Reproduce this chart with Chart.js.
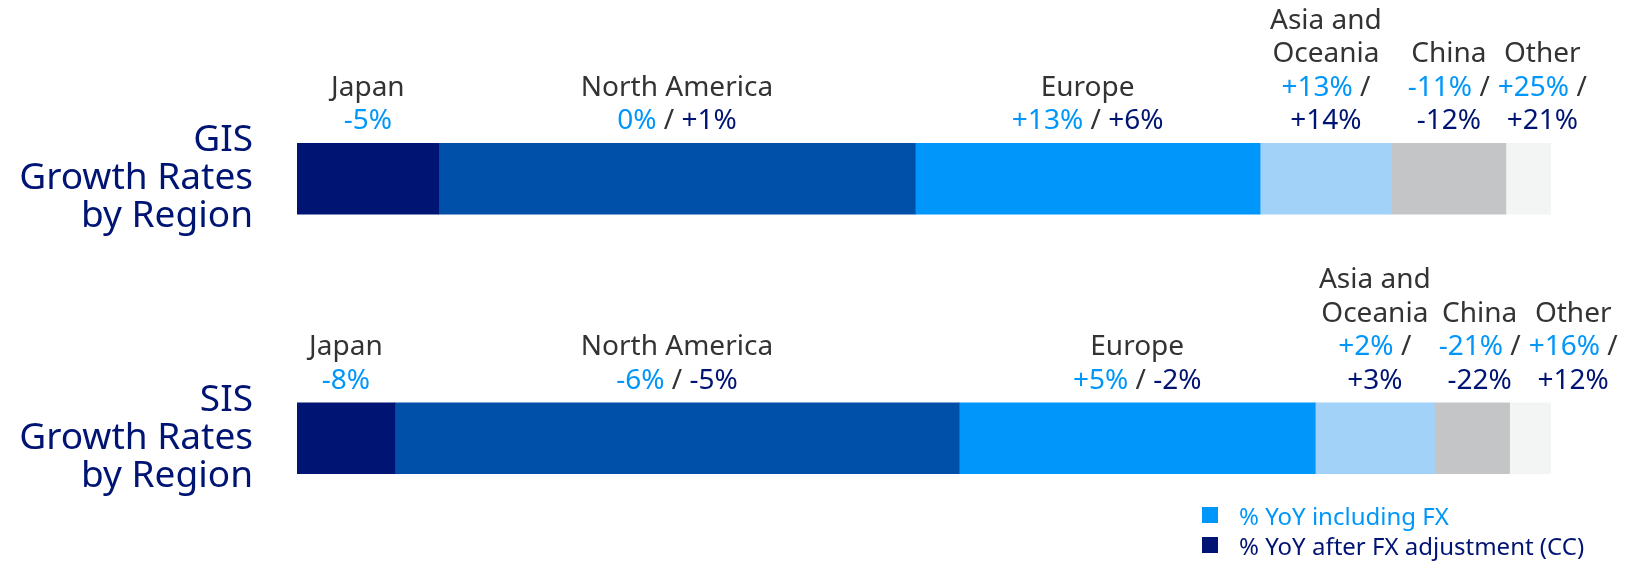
<!DOCTYPE html>
<html>
<head>
<meta charset="utf-8">
<title>Growth Rates by Region</title>
<script src="https://cdn.jsdelivr.net/npm/chart.js@4.4.1/dist/chart.umd.min.js"></script>
<style>
    body { margin: 0; background: #fff; font-family: 'Noto Sans', sans-serif; }
    #wrap { position: relative; width: 1627px; height: 569px; }
    .legend { position: absolute; left: 1202px; top: 500px; font-size: 24px; }
    .legend div { display: flex; align-items: center; height: 30px; }
    .legend .box { width: 16px; height: 16px; margin-right: 21px; }
</style>
</head>
<body>
<div id="wrap">
    <canvas id="chart" width="1627" height="569"></canvas>
    <div class="legend">
        <div style="color:#0096fa"><span class="box" style="background:#0096fa"></span>% YoY including FX</div>
        <div style="color:#001473"><span class="box" style="background:#001473"></span>% YoY after FX adjustment (CC)</div>
    </div>
</div>
<script>
// segments (rows) and their axis titles
const segments = ['GIS', 'SIS'];
const segmentTitles = [
    ['GIS', 'Growth Rates', 'by Region'],
    ['SIS', 'Growth Rates', 'by Region']
];

// regions (stacked pieces), label lines as shown above each piece
const regions = [['Japan'], ['North America'], ['Europe'], ['Asia and', 'Oceania'], ['China'], ['Other']];
const regionColors = ['#001473', '#0050aa', '#0096fa', '#a2d2f8', '#c4c5c7', '#f3f4f4'];

// share of revenue (%) - sets the width of each piece
const gisShare = [11.3, 38.0, 27.5, 10.5, 9.1, 3.6];
const sisShare = [7.8, 45.0, 28.4, 9.5, 6.0, 3.3];

// growth rates: % YoY including FX / % YoY after FX adjustment (null = not shown)
const gisFx = [-5, 0, 13, 13, -11, 25];
const gisCc = [null, 1, 6, 14, -12, 21];
const sisFx = [-8, -6, 5, 2, -21, 16];
const sisCc = [null, -5, -2, 3, -22, 12];

const fxRows = [gisFx, sisFx];
const ccRows = [gisCc, sisCc];

const LIGHT = '#0096fa';
const NAVY = '#001473';
const GREY = '#333333';

const fmt = v => (v > 0 ? '+' : '') + v + '%';

const regionLabels = {
    id: 'regionLabels',
    afterDatasetsDraw(chart) {
        const ctx = chart.ctx;
        const lineGap = 33.5;
        ctx.save();
        ctx.font = '28px "Noto Sans"';
        ctx.textBaseline = 'middle';
        ctx.textAlign = 'left';
        segments.forEach((seg, j) => {
            let prevRight = -Infinity;
            regions.forEach((reg, i) => {
                const bar = chart.getDatasetMeta(i).data[j];
                const left = Math.min(bar.base, bar.x);
                const right = Math.max(bar.base, bar.x);
                const fx = fmt(fxRows[j][i]);
                const cc = ccRows[j][i];

                const lines = reg.map(t => [[t, GREY]]);
                if (cc === null) {
                    lines.push([[fx, LIGHT]]);
                } else if (ctx.measureText(fx + ' / ' + fmt(cc)).width > right - left - 20) {
                    lines.push([[fx, LIGHT], [' /', GREY]]);
                    lines.push([[fmt(cc), NAVY]]);
                } else {
                    lines.push([[fx, LIGHT], [' / ', GREY], [fmt(cc), NAVY]]);
                }

                const widths = lines.map(runs => runs.reduce((s, r) => s + ctx.measureText(r[0]).width, 0));
                const blockW = Math.max(...widths);
                let cx = (left + right) / 2;
                // push right if it would run into the previous label
                if (cx - blockW / 2 < prevRight + 8) cx = prevRight + 8 + blockW / 2;
                prevRight = cx + blockW / 2;

                const bottomY = bar.y - bar.height / 2 - 22;
                lines.forEach((runs, k) => {
                    const y = bottomY - (lines.length - 1 - k) * lineGap;
                    let x = cx - widths[k] / 2;
                    runs.forEach(([t, c]) => {
                        ctx.fillStyle = c;
                        ctx.fillText(t, x, y);
                        x += ctx.measureText(t).width;
                    });
                });
            });
        });
        ctx.restore();
    }
};

const ctx = document.getElementById('chart').getContext('2d');

new Chart(ctx, {
    type: 'bar',
    data: {
        labels: segmentTitles,
        datasets: regions.map((reg, i) => ({
            label: reg.join(' '),
            data: [gisShare[i], sisShare[i]],
            backgroundColor: regionColors[i],
            borderWidth: 0,
            barThickness: 71
        }))
    },
    options: {
        indexAxis: 'y',
        responsive: false,
        animation: false,
        layout: { padding: { top: 49, bottom: 1, left: 0, right: 76 } },
        plugins: {
            legend: { display: false },
            tooltip: { enabled: false }
        },
        scales: {
            x: { display: false, stacked: true, min: 0, max: 100 },
            y: {
                stacked: true,
                grid: { display: false, drawTicks: false },
                border: { display: false },
                ticks: {
                    color: NAVY,
                    padding: 44,
                    font: { family: 'Noto Sans', size: 37, lineHeight: 1.03 }
                },
                afterFit(scale) {
                    scale.width = 297;
                    // the titles may hang past the plot area, don't reserve room for them
                    scale.paddingTop = 0;
                    scale.paddingBottom = 0;
                }
            }
        }
    },
    plugins: [regionLabels]
});
</script>
</body>
</html>
